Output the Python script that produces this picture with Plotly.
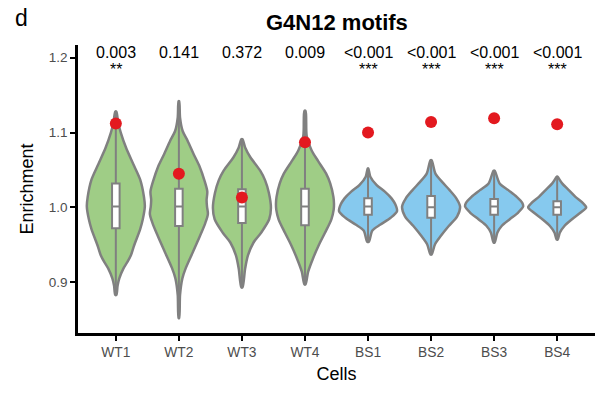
import plotly.graph_objects as go

categories = ["WT1", "WT2", "WT3", "WT4", "BS1", "BS2", "BS3", "BS4"]
groups = ["WT", "WT", "WT", "WT", "BS", "BS", "BS", "BS"]
observed = [1.112, 1.045, 1.013, 1.087, 1.100, 1.114, 1.119, 1.111]
p_labels = ["0.003", "0.141", "0.372", "0.009", "<0.001", "<0.001", "<0.001", "<0.001"]
stars = ["**", "", "", "", "***", "***", "***", "***"]

q1 = [0.972, 0.975, 0.979, 0.976, 0.990, 0.986, 0.990, 0.990]
median = [1.001, 1.001, 1.001, 1.001, 1.001, 1.000, 1.001, 1.000]
q3 = [1.032, 1.025, 1.024, 1.025, 1.012, 1.015, 1.011, 1.008]
ymin = [0.883, 0.852, 0.893, 0.897, 0.954, 0.937, 0.953, 0.957]
ymax = [1.128, 1.142, 1.091, 1.129, 1.052, 1.063, 1.049, 1.041]

# density profiles (enrichment level, relative density)
wt1_levels = [0.883, 0.895, 0.905, 0.918, 0.927, 0.936, 0.949, 0.971, 0.984, 1.001, 1.014, 1.037, 1.058, 1.080, 1.100, 1.113, 1.128]
wt1_density = [0.02, 0.06, 0.12, 0.26, 0.40, 0.52, 0.63, 0.84, 0.93, 1.0, 0.97, 0.84, 0.60, 0.35, 0.17, 0.08, 0.02]
wt2_levels = [0.852, 0.883, 0.905, 0.919, 0.940, 0.962, 0.979, 0.991, 1.001, 1.010, 1.021, 1.036, 1.054, 1.071, 1.089, 1.102, 1.120, 1.142]
wt2_density = [0.01, 0.04, 0.12, 0.24, 0.48, 0.73, 0.91, 1.0, 0.97, 0.955, 0.98, 0.88, 0.72, 0.51, 0.30, 0.13, 0.04, 0.01]
wt3_levels = [0.893, 0.918, 0.936, 0.953, 0.966, 0.984, 0.999, 1.019, 1.036, 1.049, 1.067, 1.080, 1.091]
wt3_density = [0.02, 0.11, 0.21, 0.40, 0.66, 0.94, 1.0, 0.93, 0.80, 0.63, 0.29, 0.11, 0.02]
wt4_levels = [0.897, 0.914, 0.931, 0.949, 0.966, 0.984, 0.997, 1.005, 1.014, 1.032, 1.045, 1.062, 1.076, 1.095, 1.129]
wt4_density = [0.02, 0.11, 0.27, 0.47, 0.69, 0.91, 0.99, 1.0, 0.98, 0.87, 0.73, 0.45, 0.23, 0.06, 0.02]
bs1_levels = [0.954, 0.969, 0.977, 0.986, 0.995, 1.004, 1.012, 1.021, 1.030, 1.041, 1.052]
bs1_density = [0.03, 0.15, 0.43, 0.78, 1.0, 0.94, 0.81, 0.58, 0.29, 0.08, 0.01]
bs2_levels = [0.937, 0.951, 0.962, 0.975, 0.988, 1.001, 1.012, 1.023, 1.034, 1.045, 1.063]
bs2_density = [0.02, 0.14, 0.34, 0.61, 0.90, 1.0, 0.87, 0.64, 0.38, 0.15, 0.02]
bs3_levels = [0.953, 0.966, 0.975, 0.984, 0.993, 1.001, 1.006, 1.014, 1.023, 1.032, 1.049]
bs3_density = [0.02, 0.11, 0.26, 0.54, 0.83, 1.0, 0.97, 0.78, 0.49, 0.19, 0.02]
bs4_levels = [0.957, 0.966, 0.975, 0.984, 0.993, 1.000, 1.006, 1.014, 1.023, 1.032, 1.041]
bs4_density = [0.02, 0.09, 0.25, 0.51, 0.81, 1.0, 0.88, 0.63, 0.40, 0.17, 0.01]

profiles = [
    (wt1_levels, wt1_density), (wt2_levels, wt2_density),
    (wt3_levels, wt3_density), (wt4_levels, wt4_density),
    (bs1_levels, bs1_density), (bs2_levels, bs2_density),
    (bs3_levels, bs3_density), (bs4_levels, bs4_density),
]

fill_colors = {"WT": "#9fcd86", "BS": "#86c9ee"}
edge = "#808080"
half_width = 0.46
font = "Liberation Sans, Arial, sans-serif"
x_range = [-0.6, 7.6]
y_range = [0.832, 1.217]

fig = go.Figure()

for i, (levels, dens) in enumerate(profiles):
    xs = [i + d * half_width for d in dens] + [i - d * half_width for d in reversed(dens)]
    ys = list(levels) + list(reversed(levels))
    xs.append(xs[0])
    ys.append(ys[0])
    fig.add_trace(go.Scatter(
        x=xs, y=ys, mode="lines", fill="toself",
        fillcolor=fill_colors[groups[i]],
        line=dict(color=edge, width=2.5, shape="spline", smoothing=0.8),
        hoverinfo="skip", showlegend=False,
    ))

# boxes and observed points on an overlaid subplot so they sit above the violins
fig.add_trace(go.Box(
    x=list(range(len(categories))),
    q1=q1, median=median, q3=q3,
    lowerfence=ymin, upperfence=ymax,
    width=0.12, whiskerwidth=0,
    fillcolor="white", line=dict(color=edge, width=2),
    boxpoints=False, showlegend=False,
    xaxis="x2", yaxis="y2",
))

fig.add_trace(go.Scatter(
    x=list(range(len(categories))), y=observed, mode="markers",
    marker=dict(color="#e3191f", size=12),
    showlegend=False, xaxis="x2", yaxis="y2",
))

for i, (p, s) in enumerate(zip(p_labels, stars)):
    fig.add_annotation(x=i, y=1.2076, xref="x", yref="y", text=p, showarrow=False,
                       font=dict(size=16, color="black", family=font), yanchor="middle")
    if s:
        fig.add_annotation(x=i, y=1.1844, xref="x", yref="y", text=s, showarrow=False,
                           font=dict(size=16, color="black", family=font), yanchor="middle")

fig.add_annotation(x=0.5, y=1.078, xref="paper", yref="paper", text="<b>G4N12 motifs</b>",
                   showarrow=False, font=dict(size=22, color="black", family=font),
                   xanchor="center", yanchor="middle")
fig.add_annotation(x=-0.11, y=1.095, xref="paper", yref="paper", text="d",
                   showarrow=False, font=dict(size=23, color="black", family=font),
                   xanchor="center", yanchor="middle")

fig.update_layout(
    width=611, height=394,
    margin=dict(l=78, r=16, t=45, b=55),
    paper_bgcolor="white", plot_bgcolor="white",
    font=dict(family=font),
    showlegend=False,
    xaxis=dict(
        range=x_range, tickmode="array", tickvals=list(range(len(categories))),
        ticktext=categories, showline=True, linecolor="black", linewidth=2.5,
        ticks="outside", ticklen=5, tickwidth=1.5, tickcolor="black",
        tickfont=dict(size=13.8, color="#4d4d4d"), showgrid=False, zeroline=False,
        title=dict(text="Cells", font=dict(size=18, color="black"), standoff=9),
    ),
    yaxis=dict(
        range=y_range, tickmode="array", tickvals=[0.9, 1.0, 1.1, 1.2],
        ticktext=["0.9", "1.0", "1.1", "1.2"], showline=True, linecolor="black", linewidth=2.5,
        ticks="outside", ticklen=5, tickwidth=1.5, tickcolor="black",
        tickfont=dict(size=13.5, color="#4d4d4d"), showgrid=False, zeroline=False,
        title=dict(text="Enrichment", font=dict(size=18, color="black"), standoff=11),
    ),
    xaxis2=dict(overlaying="x", range=x_range, visible=False),
    yaxis2=dict(overlaying="y", range=y_range, visible=False),
)

fig.write_html("out.html")
